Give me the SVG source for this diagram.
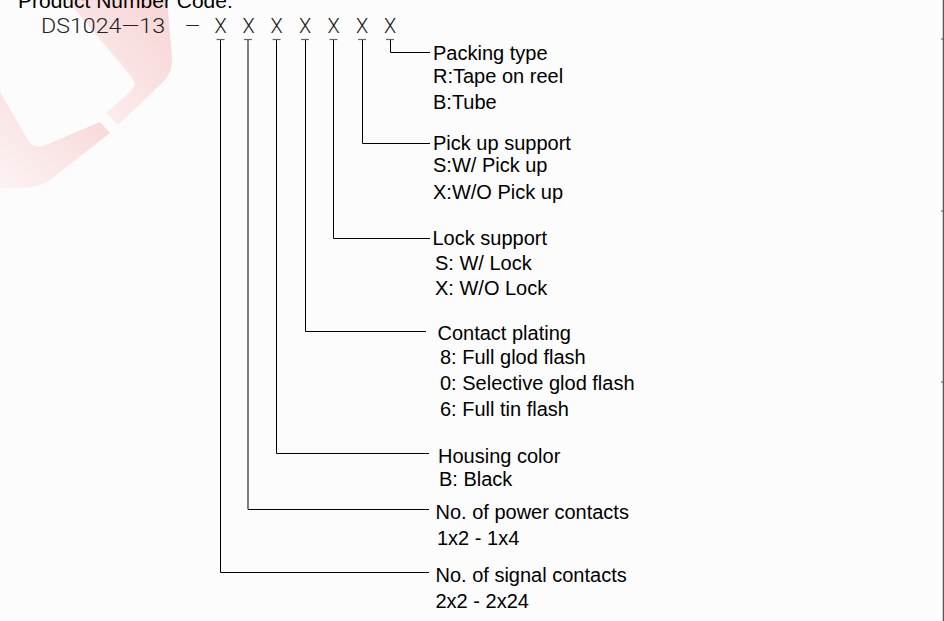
<svg xmlns="http://www.w3.org/2000/svg" width="944" height="621" viewBox="0 0 944 621">
  <defs>
    <linearGradient id="wm" x1="1" y1="0" x2="0" y2="1">
      <stop offset="0" stop-color="#f6c4c4"/>
      <stop offset="1" stop-color="#fdf0f0"/>
    </linearGradient>
    <style>
      .lbl { font-family: "Liberation Sans", Arial, sans-serif; font-size: 20px; fill: #000; }
      .code { font-family: Roboto, "Open Sans", "DejaVu Sans", sans-serif; font-weight: 300; font-size: 20px; fill: #222; }
      .conn { fill: none; stroke: #000; stroke-width: 1; }
      .tick { stroke: #666; stroke-width: 1.2; }
    </style>
  </defs>
  <rect width="944" height="621" fill="#fcfcfc"/>

  <!-- watermark -->
  <g id="watermark" fill="url(#wm)" opacity="0.7">
    <path d="M67,0 L167,0 L172,58 Q173,72 163,82 L118,125 L106,113 L131,91 Q138,84 131,76 Z"/>
    <path d="M0,92 L28,140 Q34,150 46,145 L100,122 L110,133 L55,176 Q42,188 22,188 L0,188 Z"/>
  </g>

  <!-- right border -->
  <g id="border" stroke="#555">
    <line x1="943.5" y1="0" x2="943.5" y2="621" stroke-width="1.5"/>
    <line x1="941" y1="39" x2="944" y2="39" stroke-width="1"/>
    <line x1="941" y1="211" x2="944" y2="211" stroke-width="1"/>
    <line x1="941" y1="382" x2="944" y2="382" stroke-width="1"/>
  </g>

  <g id="title">
    <text class="lbl" x="18" y="8" style="font-size:21px">Product Number Code:</text>
  </g>

  <g id="code">
    <text class="code" x="41" y="33" textLength="124" lengthAdjust="spacingAndGlyphs">DS1024—13</text>
    <text class="code" x="185" y="33" textLength="15" lengthAdjust="spacingAndGlyphs">—</text>
    <text class="code" x="220.5" y="33" text-anchor="middle">X</text>
    <text class="code" x="248.5" y="33" text-anchor="middle">X</text>
    <text class="code" x="276.5" y="33" text-anchor="middle">X</text>
    <text class="code" x="305" y="33" text-anchor="middle">X</text>
    <text class="code" x="333.5" y="33" text-anchor="middle">X</text>
    <text class="code" x="362" y="33" text-anchor="middle">X</text>
    <text class="code" x="390" y="33" text-anchor="middle">X</text>
    <g id="ticks">
      <line class="tick" x1="216.5" y1="39.5" x2="224.5" y2="39.5"/>
      <line class="tick" x1="244" y1="39.5" x2="252" y2="39.5"/>
      <line class="tick" x1="272.5" y1="39.5" x2="280.5" y2="39.5"/>
      <line class="tick" x1="301" y1="39.5" x2="309" y2="39.5"/>
      <line class="tick" x1="329.5" y1="39.5" x2="337.5" y2="39.5"/>
      <line class="tick" x1="358" y1="39.5" x2="366" y2="39.5"/>
      <line class="tick" x1="386" y1="39.5" x2="394" y2="39.5"/>
    </g>
  </g>

  <g id="connectors">
    <polyline class="conn" points="390.5,40 390.5,52.5 430,52.5"/>
    <polyline class="conn" points="362.5,40 362.5,143.5 430,143.5"/>
    <polyline class="conn" points="333.5,40 333.5,238.5 430,238.5"/>
    <polyline class="conn" points="305.5,40 305.5,331.5 426,331.5"/>
    <polyline class="conn" points="276.5,40 276.5,453.5 429,453.5"/>
    <polyline class="conn" points="248,40 248,509.5 429,509.5"/>
    <polyline class="conn" points="220.5,40 220.5,572.5 429,572.5"/>
  </g>

  <g id="packing-type">
    <text class="lbl" x="433" y="60">Packing type</text>
    <text class="lbl" x="433" y="82.5">R:Tape on reel</text>
    <text class="lbl" x="433" y="108.5">B:Tube</text>
  </g>
  <g id="pick-up-support">
    <text class="lbl" x="433" y="149.5">Pick up support</text>
    <text class="lbl" x="433" y="172">S:W/ Pick up</text>
    <text class="lbl" x="433" y="198.5">X:W/O Pick up</text>
  </g>
  <g id="lock-support">
    <text class="lbl" x="432.5" y="245">Lock support</text>
    <text class="lbl" x="435" y="270">S: W/ Lock</text>
    <text class="lbl" x="435" y="295">X: W/O Lock</text>
  </g>
  <g id="contact-plating">
    <text class="lbl" x="437.5" y="339.5">Contact plating</text>
    <text class="lbl" x="440" y="363.5">8: Full glod flash</text>
    <text class="lbl" x="440" y="390">0: Selective glod flash</text>
    <text class="lbl" x="440" y="415.5">6: Full tin flash</text>
  </g>
  <g id="housing-color">
    <text class="lbl" x="438" y="462.5">Housing color</text>
    <text class="lbl" x="439" y="485.5">B: Black</text>
  </g>
  <g id="power-contacts">
    <text class="lbl" x="435.5" y="518.5">No. of power contacts</text>
    <text class="lbl" x="437" y="544.5">1x2 - 1x4</text>
  </g>
  <g id="signal-contacts">
    <text class="lbl" x="435.5" y="581.5">No. of signal contacts</text>
    <text class="lbl" x="435.5" y="607.5">2x2 - 2x24</text>
  </g>
</svg>
